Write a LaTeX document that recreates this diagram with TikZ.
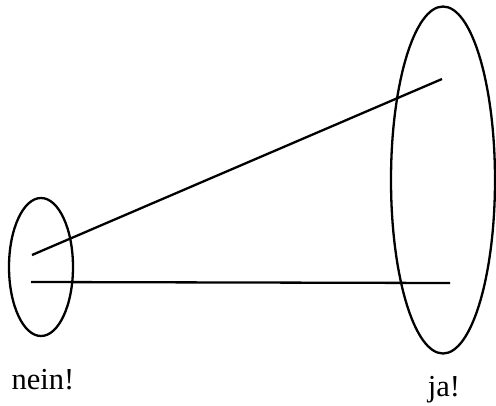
\documentclass[tikz,border=0pt]{standalone}
\usepackage{fontspec}
\setmainfont{Liberation Serif}
\usetikzlibrary{shapes.geometric}

\begin{document}
\begin{tikzpicture}[
  x=1pt, y=-1pt,
  blob/.style={draw, ellipse, line width=2.3pt, inner sep=0pt},
  stroke/.style={line width=2.3pt},
  word/.style={anchor=base, font=\fontsize{30.5}{36}\selectfont}
]
\useasboundingbox (0,0) rectangle (496,405);
\node[blob, minimum width=64pt, minimum height=138pt] (small) at (41,267) {};
\node[blob, minimum width=104pt, minimum height=347pt] (big) at (443,180) {};
\coordinate (a) at (32,255);
\coordinate (b) at (442,79);
\coordinate (c) at (31,282);
\coordinate (d) at (450,283);
\node[word] (nein) at (43,389) {nein!};
\node[word] (ja) at (444,396) {ja!};

\draw[stroke] (a) -- (b);
\draw[stroke] (c) -- (d);
\end{tikzpicture}
\end{document}
